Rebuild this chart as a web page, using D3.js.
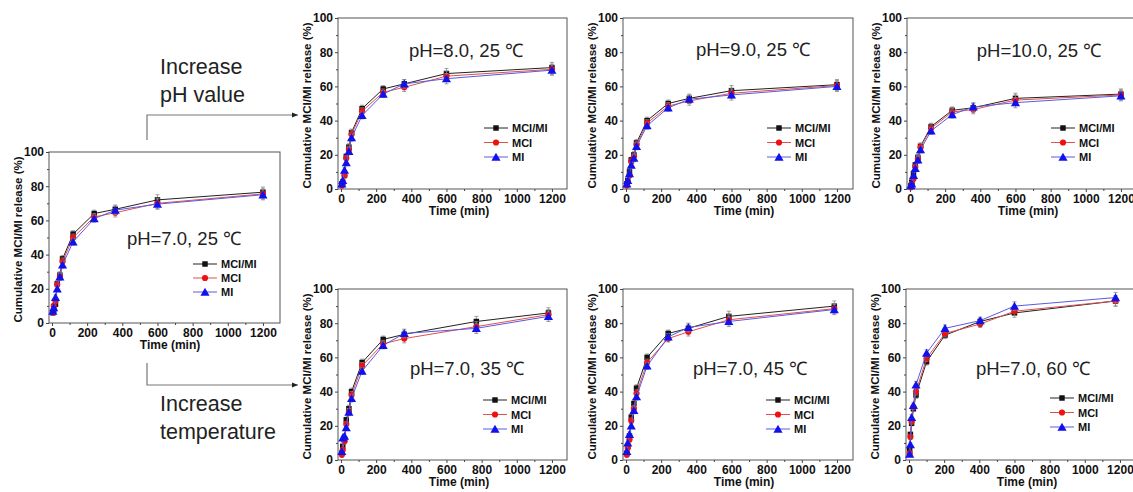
<!DOCTYPE html>
<html><head><meta charset="utf-8">
<script src="https://cdn.jsdelivr.net/npm/d3@7"></script>
<style>
html,body{margin:0;padding:0;background:#fff;overflow:hidden;}
svg{display:block;}
text{font-family:"Liberation Sans",Arial,sans-serif;}
</style></head>
<body>
<svg id="c" width="1133" height="492"></svg>
<script>
// ---------- data ----------
const timesStd = [5, 10, 20, 30, 45, 60, 120, 240, 360, 600, 1200];
const times35  = [5, 10, 20, 30, 45, 60, 120, 240, 360, 770, 1180];
const times45  = [5, 10, 20, 30, 45, 60, 120, 240, 355, 585, 1185];
const times60  = [4, 8, 15, 25, 40, 100, 205, 405, 600, 1175];
const errs     = [1, 1, 1.5, 1.5, 2, 2, 2, 2, 2.5, 3, 3];
const seriesNames = ["MCI/MI", "MCI", "MI"];
const xTicks = [0, 200, 400, 600, 800, 1000, 1200];
const yTicks = [0, 20, 40, 60, 80, 100];

const pH7_25_MCIMI = [6, 7.5, 11, 23, 28, 37.5, 52, 64, 66.5, 72, 76.5];
const pH7_25_MCI   = [6, 10, 13, 22.5, 27, 36, 50, 62, 64.5, 70, 75.5];
const pH7_25_MI    = [7, 9, 15, 20, 27, 34, 47.5, 61, 66, 69.5, 75];

const pH8_25_MCIMI = [3, 4, 8, 19, 24.5, 33, 47, 58.5, 61.5, 67.5, 71];
const pH8_25_MCI   = [2, 3, 8, 18, 23, 32, 45.5, 56.5, 59.5, 66, 70];
const pH8_25_MI    = [3, 5, 11, 15.5, 22, 30, 43, 55.5, 61.5, 64.5, 69.5];

const pH9_25_MCIMI = [3, 5, 10, 17, 20, 27, 40, 50, 53, 57.5, 61];
const pH9_25_MCI   = [2, 4, 8, 16, 19, 26, 38.5, 48.5, 51.5, 56, 60.5];
const pH9_25_MI    = [3, 5, 9, 14, 18, 25, 37, 47.5, 52.5, 55, 60];

const pH10_25_MCIMI = [2, 4, 9, 14, 18.5, 25, 36.5, 46, 47.5, 53, 55.5];
const pH10_25_MCI   = [1, 3, 6, 13, 17.5, 24.5, 35.5, 45, 46.5, 52, 55];
const pH10_25_MI    = [2, 3, 8, 12, 17, 23, 34, 43.5, 48, 50.5, 54.5];

const pH7_35_MCIMI = [4, 8, 12, 23.5, 30, 40, 57, 70.5, 73.5, 81, 86];
const pH7_35_MCI   = [3, 6, 11, 21, 28, 38, 55, 68, 71, 78, 85];
const pH7_35_MI    = [5, 13, 14, 19, 28, 36, 52, 67, 74, 77, 84];

const pH7_45_MCIMI = [4, 8, 14, 25, 33, 42, 60, 74, 77, 84, 90];
const pH7_45_MCI   = [3, 7, 12, 23, 30, 39, 57, 71, 75, 82, 88.5];
const pH7_45_MI    = [5, 10, 15, 20, 29, 37, 55, 72, 77.5, 81, 88];

const pH7_60_MCIMI = [6, 15, 21.5, 30, 38, 57.5, 73, 81, 86, 93];
const pH7_60_MCI   = [4, 13.5, 22.5, 31, 40, 59.5, 74, 79.5, 87, 93];
const pH7_60_MI    = [3.5, 9, 25, 32, 44, 62.5, 77, 81.5, 90, 95];

const panelLabels = ["pH=7.0, 25 \u2103", "pH=8.0, 25 \u2103", "pH=9.0, 25 \u2103", "pH=10.0, 25 \u2103",
                     "pH=7.0, 35 \u2103", "pH=7.0, 45 \u2103", "pH=7.0, 60 \u2103"];
const arrowTexts = [["Increase", "pH value"], ["Increase", "temperature"]];

// ---------- layout ----------
const panels = [
  {label: panelLabels[0], t: timesStd, data: [pH7_25_MCIMI, pH7_25_MCI, pH7_25_MI], L: 49,  R: 280, T: 152, B: 323, lab: [184, 245], leg: [193, 264], sp: 14},
  {label: panelLabels[1], t: timesStd, data: [pH8_25_MCIMI, pH8_25_MCI, pH8_25_MI], L: 338, R: 567, T: 18,  B: 189, lab: [466, 57],  leg: [484, 128], sp: 14.5},
  {label: panelLabels[2], t: timesStd, data: [pH9_25_MCIMI, pH9_25_MCI, pH9_25_MI], L: 623, R: 853, T: 18,  B: 189, lab: [753, 56],  leg: [767, 128], sp: 14.5},
  {label: panelLabels[3], t: timesStd, data: [pH10_25_MCIMI, pH10_25_MCI, pH10_25_MI], L: 907, R: 1138, T: 18, B: 189, lab: [1039, 57], leg: [1051, 128], sp: 14.5},
  {label: panelLabels[4], t: times35,  data: [pH7_35_MCIMI, pH7_35_MCI, pH7_35_MI], L: 338, R: 567, T: 289, B: 460, lab: [467, 375], leg: [483, 400], sp: 14.5},
  {label: panelLabels[5], t: times45,  data: [pH7_45_MCIMI, pH7_45_MCI, pH7_45_MI], L: 623, R: 853, T: 289, B: 460, lab: [750, 375], leg: [766, 400], sp: 14.5},
  {label: panelLabels[6], t: times60,  data: [pH7_60_MCIMI, pH7_60_MCI, pH7_60_MI], L: 906, R: 1137, T: 289, B: 460, lab: [1033, 375], leg: [1050, 398], sp: 14.5},
];

const lineColors = ["#222", "#e05050", "#5a5ae0"];
const markColors = ["#111", "#ee1111", "#1111ee"];
const markTypes = [d3.symbolSquare, d3.symbolCircle, d3.symbolTriangle];
const markSizes = [30, 30, 36];

const svg = d3.select("#c");
const fontStack = '"Liberation Sans Narrow", "Liberation Sans", Arial, sans-serif';
const boldStack = '"Liberation Sans", Arial, sans-serif';

panels.forEach(p => {
  const x = d3.scaleLinear().domain([-17, 1297]).range([p.L, p.L + 231]);
  const y = d3.scaleLinear().domain([0, 100]).range([p.B, p.T]);
  const g = svg.append("g");

  // frame
  g.append("rect").attr("x", p.L).attr("y", p.T).attr("width", p.R - p.L).attr("height", p.B - p.T)
    .attr("fill", "none").attr("stroke", "#555").attr("stroke-width", 1);

  // axes
  const xa = g.append("g").attr("transform", `translate(0,${p.B})`)
    .call(d3.axisBottom(x).tickValues(xTicks).tickSize(3).tickPadding(2).tickFormat(d3.format("d")));
  const xm = g.append("g").attr("transform", `translate(0,${p.B})`)
    .call(d3.axisBottom(x).tickValues(d3.range(100, 1300, 200)).tickSize(2).tickFormat(""));
  const ya = g.append("g").attr("transform", `translate(${p.L},0)`)
    .call(d3.axisLeft(y).tickValues(yTicks).tickSize(3).tickPadding(2));
  const ym = g.append("g").attr("transform", `translate(${p.L},0)`)
    .call(d3.axisLeft(y).tickValues(d3.range(10, 100, 20)).tickSize(2).tickFormat(""));
  [xa, xm, ya, ym].forEach(a => {
    a.select(".domain").remove();
    a.selectAll("line").attr("stroke", "#444");
    a.selectAll("text").attr("font-family", fontStack).attr("font-size", 12).attr("font-weight", "bold").attr("fill", "#111");
  });

  // axis titles
  g.append("text").attr("x", p.L + 121).attr("y", p.B + 26).attr("text-anchor", "middle")
    .attr("font-family", boldStack).attr("font-size", 12).attr("font-weight", "bold").attr("fill", "#111").text("Time (min)");
  g.append("text").attr("transform", `translate(${p.L - 27},${(p.T + p.B) / 2 + 2}) rotate(-90)`)
    .attr("text-anchor", "middle").attr("font-family", boldStack).attr("font-size", 11.5).attr("font-weight", "bold").attr("fill", "#111")
    .text("Cumulative MCI/MI release (%)");

  // series
  p.data.forEach((vals, si) => {
    const pts = p.t.map((t, i) => ({t, v: vals[i], e: errs[i]}));
    g.append("path").datum(pts)
      .attr("fill", "none").attr("stroke", lineColors[si]).attr("stroke-width", 1)
      .attr("d", d3.line().x(d => x(d.t)).y(d => y(d.v)));
    const eb = g.append("g");
    pts.forEach(d => {
      eb.append("line").attr("x1", x(d.t)).attr("x2", x(d.t)).attr("y1", y(d.v - d.e)).attr("y2", y(d.v + d.e))
        .attr("stroke", "#888").attr("stroke-width", 0.8);
      [d.v - d.e, d.v + d.e].forEach(v => eb.append("line").attr("x1", x(d.t) - 2).attr("x2", x(d.t) + 2)
        .attr("y1", y(v)).attr("y2", y(v)).attr("stroke", "#888").attr("stroke-width", 0.8));
    });
    g.append("g").selectAll("path").data(pts).join("path")
      .attr("transform", d => `translate(${x(d.t)},${y(d.v) + (si === 2 ? 1 : 0)})`)
      .attr("d", d3.symbol().type(markTypes[si]).size(markSizes[si]))
      .attr("fill", markColors[si]);
  });

  // panel label
  g.append("text").attr("x", p.lab[0]).attr("y", p.lab[1]).attr("text-anchor", "middle")
    .attr("font-size", 18.5).attr("fill", "#222").text(p.label);

  // legend
  seriesNames.forEach((n, si) => {
    const ly = p.leg[1] + si * p.sp;
    g.append("line").attr("x1", p.leg[0]).attr("x2", p.leg[0] + 24).attr("y1", ly).attr("y2", ly)
      .attr("stroke", lineColors[si]).attr("stroke-width", 1);
    g.append("path").attr("transform", `translate(${p.leg[0] + 12},${ly + (si === 2 ? 1 : 0)})`)
      .attr("d", d3.symbol().type(markTypes[si]).size(markSizes[si])).attr("fill", markColors[si]);
    g.append("text").attr("x", p.leg[0] + 28).attr("y", ly + 4).attr("font-family", boldStack)
      .attr("font-size", 11).attr("font-weight", "bold").attr("fill", "#111").text(n);
  });
});

// arrows
const defs = svg.append("defs");
defs.append("marker").attr("id", "ah").attr("viewBox", "0 0 10 10").attr("refX", 10).attr("refY", 5)
  .attr("markerWidth", 5).attr("markerHeight", 5).attr("orient", "auto")
  .append("path").attr("d", "M0,1 L10,5 L0,9 Z").attr("fill", "#222");

svg.append("path").attr("d", "M147,140 L147,115 L298,115").attr("fill", "none").attr("stroke", "#777")
  .attr("stroke-width", 1.2).attr("marker-end", "url(#ah)");
svg.append("path").attr("d", "M147,363 L147,385 L298,385").attr("fill", "none").attr("stroke", "#777")
  .attr("stroke-width", 1.2).attr("marker-end", "url(#ah)");

[[arrowTexts[0], 74, 102], [arrowTexts[1], 411, 439]].forEach(([lines, y1, y2]) => {
  svg.append("text").attr("x", 160).attr("y", y1).attr("font-size", 21.5).attr("fill", "#222").text(lines[0]);
  svg.append("text").attr("x", 160).attr("y", y2).attr("font-size", 21.5).attr("fill", "#222").text(lines[1]);
});
</script>
</body></html>
